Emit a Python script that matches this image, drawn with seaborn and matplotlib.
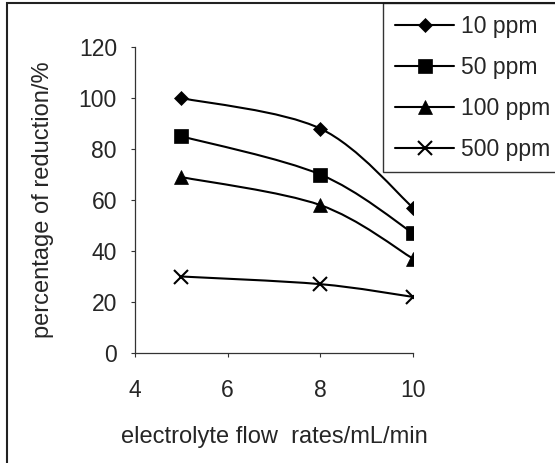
import numpy as np
import pandas as pd
import matplotlib
matplotlib.use("Agg")
import matplotlib.pyplot as plt
import seaborn as sns
from matplotlib.path import Path
from matplotlib.patches import PathPatch, Rectangle
from matplotlib.lines import Line2D

# data
flow_rates = [5, 8, 10]
series_names = ["10 ppm", "50 ppm", "100 ppm", "500 ppm"]
reduction_10 = [100, 88, 57]
reduction_50 = [85, 70, 47]
reduction_100 = [69, 58, 37]
reduction_500 = [30, 27, 22]
x_ticks = [4, 6, 8, 10]
y_ticks = [0, 20, 40, 60, 80, 100, 120]

sns.set_style("white")
plt.rcParams["font.family"] = ["Liberation Sans", "DejaVu Sans"]
FS = 16.5

rows = []
for name, vals in zip(series_names, [reduction_10, reduction_50, reduction_100, reduction_500]):
    for x, y in zip(flow_rates, vals):
        rows.append({"flow": x, "reduction": y, "series": name})
df = pd.DataFrame(rows)

markers = {"10 ppm": "D", "50 ppm": "s", "100 ppm": "^", "500 ppm": "x"}
msizes = {"10 ppm": 7, "50 ppm": 9.5, "100 ppm": 10, "500 ppm": 10}

fig = plt.figure(figsize=(5.55, 4.63), dpi=100)
ax = fig.add_axes([135 / 555, 1 - 353 / 463, 278 / 555, 306 / 463])


def smooth_path(xs, ys):
    # excel style smoothed line (bezier through the points)
    p = np.column_stack([xs, ys]).astype(float)
    n = len(p)
    verts = [p[0]]
    codes = [Path.MOVETO]
    for i in range(n - 1):
        prev = p[i - 1] if i > 0 else p[i]
        nxt = p[i + 2] if i + 2 < n else p[i + 1]
        c1 = p[i] + (p[i + 1] - prev) / 6
        c2 = p[i + 1] - (nxt - p[i]) / 6
        verts += [c1, c2, p[i + 1]]
        codes += [Path.CURVE4] * 3
    return Path(verts, codes)


handles = []
for name in series_names:
    sub = df[df["series"] == name]
    ax.add_patch(PathPatch(smooth_path(sub["flow"], sub["reduction"]),
                           facecolor="none", edgecolor="black", lw=1.5, zorder=2))
    sns.lineplot(data=sub, x="flow", y="reduction", ax=ax, linestyle="",
                 marker=markers[name], markersize=msizes[name], color="black",
                 markeredgecolor="black", markeredgewidth=1.5 if name == "500 ppm" else 0.5,
                 zorder=3, legend=False)
    handles.append(Line2D([], [], color="black", lw=1.5, marker=markers[name],
                          markersize=msizes[name],
                          markeredgewidth=1.5 if name == "500 ppm" else 0.5))

ax.set_xlim(4, 10)
ax.set_ylim(0, 120)
ax.set_xticks(x_ticks)
ax.set_yticks(y_ticks)
ax.set_xlabel("electrolyte flow  rates/mL/min", fontsize=17, labelpad=17)
ax.set_ylabel("percentage of reduction/%", fontsize=17, labelpad=18)
ax.tick_params(axis="both", labelsize=FS, length=3, width=0.8, direction="out",
               color="#333333", left=True, bottom=True)
ax.tick_params(axis="x", pad=16)
ax.tick_params(axis="y", pad=10)
for s in ["top", "right"]:
    ax.spines[s].set_visible(False)
for s in ["left", "bottom"]:
    ax.spines[s].set_color("#333333")
    ax.spines[s].set_linewidth(0.9)

# outer chart border (only left and top fall inside the picture)
fig.patches.append(Rectangle((6.5 / 555, -0.1), 1.2, 1.1 - 2.5 / 463, transform=fig.transFigure,
                             fill=False, edgecolor="#222222", lw=1.5))

leg = fig.legend(handles, series_names, loc="upper left",
                 bbox_to_anchor=(383 / 555, 1 - 3 / 463), fontsize=FS,
                 frameon=True, fancybox=False, handlelength=2.6, handletextpad=0.3,
                 labelspacing=0.78, borderpad=0.52, borderaxespad=0)
leg.get_frame().set_edgecolor("black")
leg.get_frame().set_linewidth(1.0)

fig.savefig("out.png", dpi=100)
